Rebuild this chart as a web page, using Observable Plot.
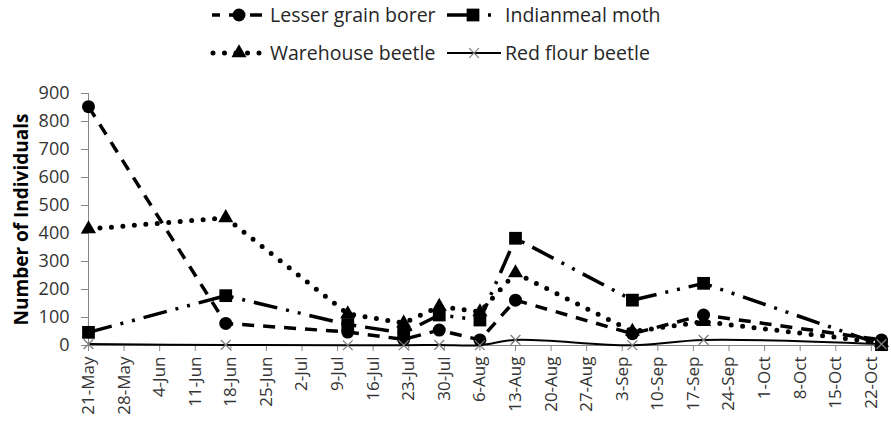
<!DOCTYPE html>
<html>
<head>
<meta charset="utf-8">
<script src="https://cdn.jsdelivr.net/npm/d3@7"></script>
<script src="https://cdn.jsdelivr.net/npm/@observablehq/plot@0.6"></script>
<style>
  html, body { margin: 0; padding: 0; background: #ffffff; }
  #wrap { width: 891px; height: 431px; overflow: hidden; font-family: "Open Sans", sans-serif; }
  #legend { display: block; }
  #chart svg { display: block; }
</style>
</head>
<body>
<div id="wrap">
  <svg id="legend" width="891" height="75"></svg>
  <div id="chart"></div>
</div>
<script>
// ---- data ----
const sampleDates = ["2013-05-21","2013-06-17","2013-07-11","2013-07-22","2013-07-29","2013-08-06","2013-08-13","2013-09-05","2013-09-19","2013-10-24"];
const seriesNames = ["Lesser grain borer","Indianmeal moth","Warehouse beetle","Red flour beetle"];
const lesserGrainBorer = [853, 79, 48, 22, 55, 20, 162, 42, 109, 20];
const indianmealMoth   = [47, 178, 75, 45, 109, 91, 383, 162, 222, 3];
const warehouseBeetle  = [416, 456, 113, 80, 139, 120, 259, 50, 85, 10];
const redFlourBeetle   = [5, 2, 1, 1, 2, 1, 20, 1, 20, 5];
const tickDates = ["2013-05-21","2013-05-28","2013-06-04","2013-06-11","2013-06-18","2013-06-25","2013-07-02","2013-07-09","2013-07-16","2013-07-23","2013-07-30","2013-08-06","2013-08-13","2013-08-20","2013-08-27","2013-09-03","2013-09-10","2013-09-17","2013-09-24","2013-10-01","2013-10-08","2013-10-15","2013-10-22"];
const yTicks = [0,100,200,300,400,500,600,700,800,900];
const xDomain = ["2013-05-21","2013-10-24"];

// ---- styles per series ----
const styles = [
  {dash: "12,9", width: 3.5, cap: "butt", symbol: "circle", r: 6.5, fill: "#000", stroke: "none"},
  {dash: "24,9,3,9,3,9", width: 3.5, cap: "butt", symbol: "square", r: 7.2, fill: "#000", stroke: "none"},
  {dash: "0,11.5", width: 5, cap: "round", symbol: "triangle", r: 5.6, fill: "#000", stroke: "none"},
  {dash: null, width: 2, cap: "butt", symbol: "times", r: 4.5, fill: "none", stroke: "#7f7f7f"}
];

const parse = d3.utcParse("%Y-%m-%d");
const valuesBySeries = [lesserGrainBorer, indianmealMoth, warehouseBeetle, redFlourBeetle];
const tables = valuesBySeries.map((vals, s) =>
  vals.map((v, i) => ({date: parse(sampleDates[i]), value: v, series: seriesNames[s]})));

const marks = [];
// axis lines
marks.push(Plot.ruleY([0], {stroke: "#868686", strokeWidth: 1}));
marks.push(Plot.ruleX([parse(xDomain[0])], {y1: 0, y2: 900, stroke: "#868686", strokeWidth: 1}));
marks.push(Plot.axisY({ticks: yTicks, tickSize: 7, tickPadding: 12, stroke: "#868686", fill: "#333333", fontSize: 18, label: null}));
marks.push(Plot.axisX({ticks: tickDates.map(parse), tickFormat: d3.utcFormat("%-d-%b"), tickRotate: -90, tickSize: 6, tickPadding: 5, stroke: "#868686", fill: "#333333", label: null}));

tables.forEach((t, s) => {
  const st = styles[s];
  marks.push(Plot.line(t, {
    x: "date", y: "value", stroke: "#000", strokeWidth: st.width,
    strokeDasharray: st.dash || undefined, strokeLinecap: st.cap,
    curve: s === 3 ? "catmull-rom" : "linear"
  }));
  marks.push(Plot.dot(t, {
    x: "date", y: "value", symbol: () => st.symbol, r: st.r,
    fill: st.fill, stroke: st.stroke, strokeWidth: s === 3 ? 1.3 : 0
  }));
});

marks.push(Plot.text(["Number of Individuals"], {
  frameAnchor: "left", textAnchor: "middle", dx: -67, rotate: -90,
  fontWeight: "bold", fontSize: 19, fill: "#000"
}));

const chart = Plot.plot({
  width: 891, height: 356,
  marginLeft: 88, marginRight: 10, marginTop: 18, marginBottom: 86,
  style: {fontFamily: "Open Sans", fontSize: "17px", background: "#ffffff", overflow: "visible"},
  x: {type: "utc", domain: xDomain.map(parse)},
  y: {domain: [0, 900]},
  symbol: {type: "identity"},
  marks
});
document.getElementById("chart").appendChild(chart);

// ---- legend ----
const leg = d3.select("#legend");
const legendItems = [
  {x0: 212, x1: 266, y: 15, tx: 270, s: 0, off: 4},
  {x0: 447, x1: 499, y: 15, tx: 505, s: 1, off: 4},
  {x0: 212, x1: 266, y: 53, tx: 270, s: 2, off: -1},
  {x0: 447, x1: 501, y: 53, tx: 505, s: 3, off: 0}
];
const symMap = {circle: d3.symbolCircle, square: d3.symbolSquare, triangle: d3.symbolTriangle, times: d3.symbolTimes};
legendItems.forEach(it => {
  const st = styles[it.s];
  const g = leg.append("g");
  g.append("line").attr("x1", it.x0).attr("x2", it.x1).attr("y1", it.y).attr("y2", it.y)
    .attr("stroke", "#000").attr("stroke-width", it.s === 3 ? 2 : st.width)
    .attr("stroke-dasharray", st.dash).attr("stroke-linecap", st.cap)
    .attr("stroke-dashoffset", it.off);
  const cx = (it.x0 + it.x1) / 2;
  g.append("path")
    .attr("d", d3.symbol(symMap[st.symbol], Math.PI * st.r * st.r)())
    .attr("transform", `translate(${cx},${it.y})`)
    .attr("fill", st.fill).attr("stroke", st.stroke).attr("stroke-width", it.s === 3 ? 1.3 : 0);
  g.append("text").attr("x", it.tx).attr("y", it.y).attr("dy", "0.35em")
    .attr("font-family", "Open Sans").attr("font-size", 19.5).attr("fill", "#262626")
    .text(seriesNames[it.s]);
});
</script>
</body>
</html>
